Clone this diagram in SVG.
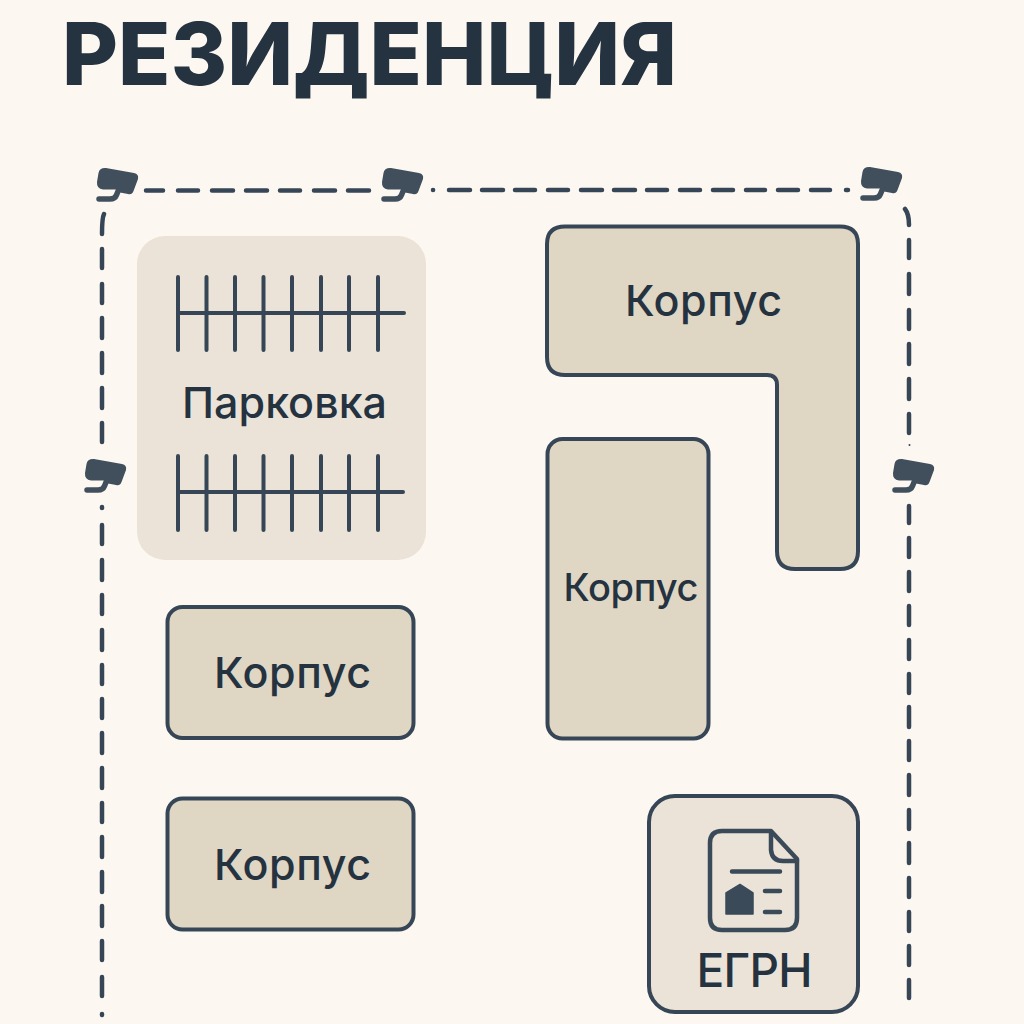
<svg xmlns="http://www.w3.org/2000/svg" width="1024" height="1024" viewBox="0 0 1024 1024">
<style>
.bld{fill:#e0d6c4;stroke:#364656;stroke-width:4;stroke-linejoin:round}
.pale{fill:#ebe3d7}
.ln{fill:none;stroke:#364656;stroke-width:4;stroke-linecap:round;stroke-linejoin:round}
.ico{fill:none;stroke:#3a4a58;stroke-width:4.500;stroke-linecap:round;stroke-linejoin:round}
.dash{fill:none;stroke:#364656;stroke-width:4.500;stroke-linecap:round}
.t{font-family:Inter,"Noto Sans","Liberation Sans",sans-serif;fill:#253240;text-anchor:middle;font-weight:500}
.cam-b{fill:#414f5d}
.cam-f{fill:none;stroke:#414f5d;stroke-width:5.500;stroke-linecap:round;stroke-linejoin:round}
</style>
<defs>
<g id="cam">
<path class="cam-b" d="M9 0L37 5Q42 6 41 11L36.500 23Q35 27 31 26L23 24.500L19 21.500L6 21.500Q-.5 21 0 14L1.500 5Q2.500 -.5 9 0Z"/>
<path class="cam-f" d="M2 31L13 31Q18 31 19.500 27L21.500 22"/>
</g>
</defs>
<rect width="1024" height="1024" fill="#fcf8f1"/>
<text id="title" x="369.500" y="85" class="t" style="font-weight:800" font-size="86" textLength="615" lengthAdjust="spacing">РЕЗИДЕНЦИЯ</text>
<g id="connectors">
<path class="dash" d="M146 190.500H163M178 190.500H198M212 190.500H233M246 190.500H267M280 190.500H300M314 190.500H335M348 190.500H369M433 190H433.100M449 190H470M482 190H503M515 190H535M548 190H568M581 190H602M614 190H635M647 190H667M680 190H700M713 190H733M746 190H765M778 190H798M811 190H830M846 190H848"/>
<path class="dash" d="M104 214Q102 218 102 234M102 249V268M102 284V303M102 318V338M102 353V373M102 388V408M102 423V442M102 507V508M102 525V544M102 560V580M102 595V614M102 630V650M102 665V684M102 699V718M102 733V753M102 768V788M102 803V822M102 837V857M102 872V892M102 906V926M102 941V960M102 977V996M102 1014V1015"/>
<path class="dash" d="M905 209Q909 214 909 225M909 240V258M909 274V294M909 310V329M909 344V364M909 379V399M909 414V433M909 506V523M909 538V557M909 572V591M909 606V625M909 640V659M909 674V693M909 707V727M909 741V760M909 775V795M909 810V829M909 843V863M909 878V897M909 912V931M909 946V965M909 980V998"/>
<circle cx="909.500" cy="445" r="1" fill="#364656"/>
</g>
<g id="camera-1"><use href="#cam" x="97" y="168"/></g>
<g id="camera-2"><use href="#cam" x="382" y="168"/></g>
<g id="camera-3"><use href="#cam" x="861" y="167"/></g>
<g id="camera-4"><use href="#cam" x="85" y="459"/></g>
<g id="camera-5"><use href="#cam" x="893" y="459"/></g>
<g id="parking">
<rect class="pale" x="137" y="236" width="289" height="324" rx="28"/>
<path class="ln" d="M178 277V350M206.500 277V350M235 277V350M263.500 277V350M292 277V350M321 277V350M349 277V350M378 277V350M178 313H404"/>
<path class="ln" d="M178 456V530M206.500 456V530M235 456V530M263.500 456V530M292 456V530M321 456V530M349 456V530M378 456V530M178 492H403"/>
<text class="t" x="284.500" y="418" font-size="43" textLength="205" lengthAdjust="spacing">Парковка</text>
</g>
<g id="building-l">
<path class="bld" d="M565 226.500H840Q858 226.500 858 244V551Q858 569 840 569H795Q777 569 777 551V385Q777 375 767 375H565Q547 375 547 357V244Q547 226.500 565 226.500Z"/>
<text class="t" x="703.500" y="316" font-size="43" textLength="157" lengthAdjust="spacing">Корпус</text>
</g>
<g id="building-tall">
<rect class="bld" x="547.500" y="439" width="161" height="299.500" rx="15"/>
<text class="t" x="631" y="601" font-size="38" textLength="135" lengthAdjust="spacing">Корпус</text>
</g>
<g id="building-a">
<rect class="bld" x="167.500" y="607" width="246" height="131" rx="15"/>
<text class="t" x="292.500" y="688" font-size="43" textLength="157" lengthAdjust="spacing">Корпус</text>
</g>
<g id="building-b">
<rect class="bld" x="167.500" y="798.500" width="246" height="131" rx="15"/>
<text class="t" x="292.500" y="880" font-size="43" textLength="157" lengthAdjust="spacing">Корпус</text>
</g>
<g id="egrn">
<rect x="649" y="796" width="209" height="216" rx="26" class="pale" style="stroke:#364656;stroke-width:4"/>
<path class="ico" d="M722 831H771L797 859V918Q797 930 785 930H722Q710 930 710 918V843Q710 831 722 831Z"/>
<path class="ico" d="M771 833V850Q772 861 783 861H797"/>
<path class="ico" d="M732 871.500H780M765 891H780M765 912H780"/>
<path fill="#3a4a58" d="M740 884.500L753 893V914H726V893Z" stroke="#3a4a58" stroke-width="1.500" stroke-linejoin="round"/>
<text class="t" x="754.500" y="987" font-size="46" textLength="116" lengthAdjust="spacing">ЕГРН</text>
</g>
</svg>
